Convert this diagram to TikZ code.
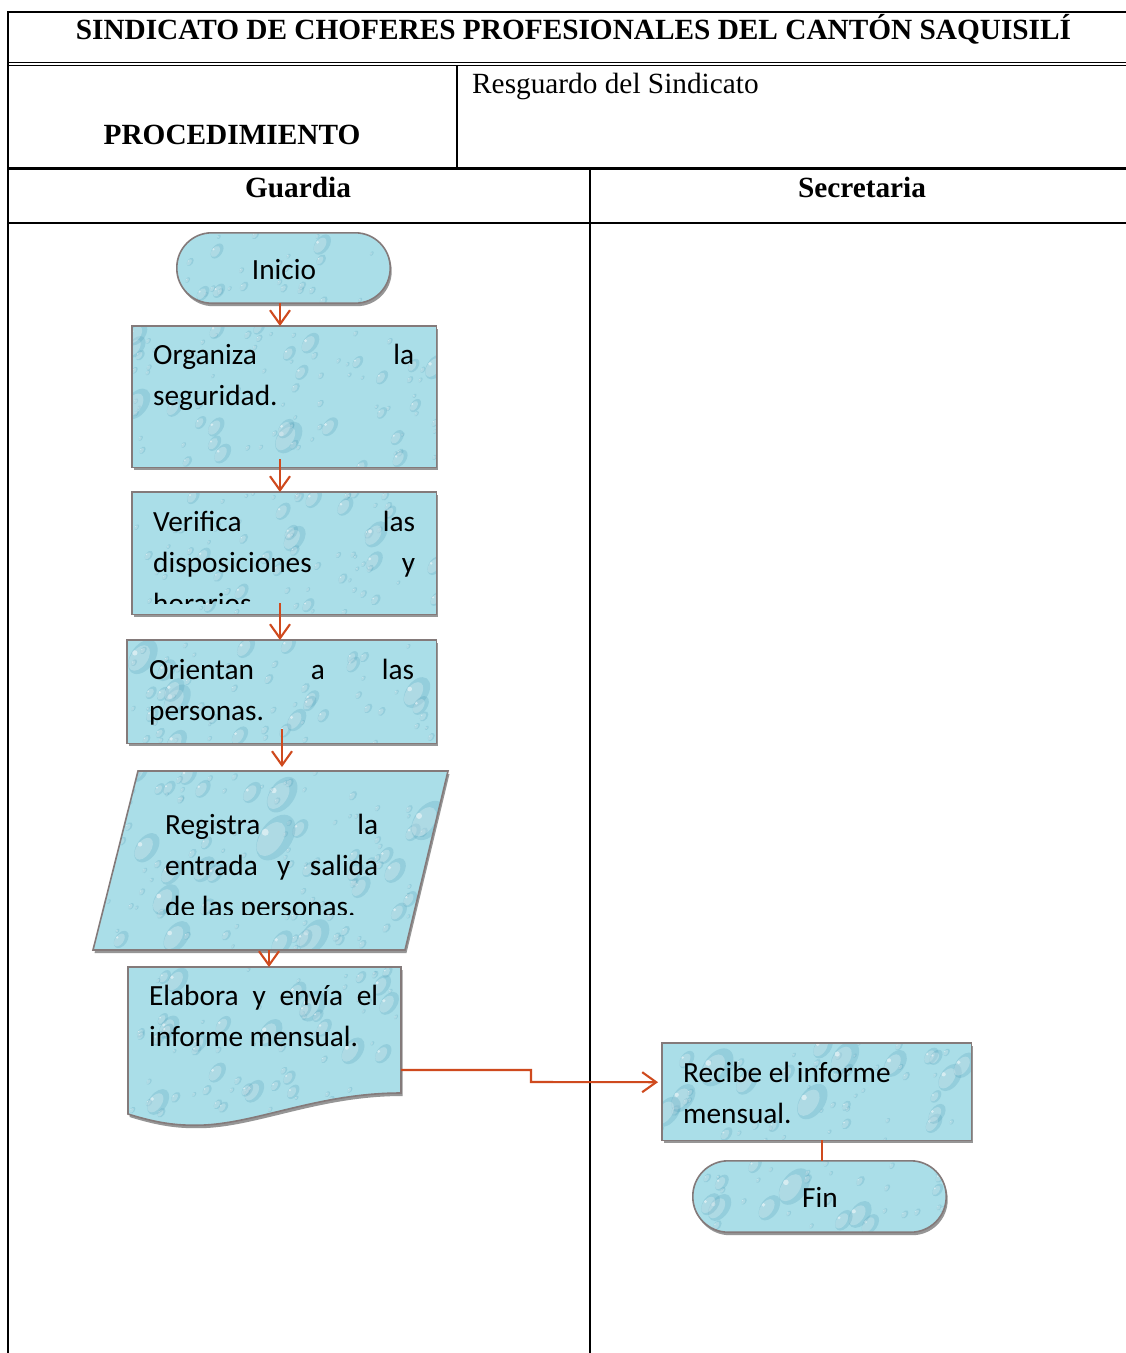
\documentclass[tikz,border=0pt]{standalone}
\usepackage{fontspec}
\setmainfont{Liberation Serif}
\newfontfamily\boxfont{Carlito}
\usetikzlibrary{shadows,arrows.meta,calc}

\definecolor{water}{RGB}{170,222,232}
\definecolor{waterdark}{RGB}{70,150,178}
\definecolor{edgegray}{RGB}{132,122,122}
\definecolor{shadowgray}{RGB}{150,150,150}
\definecolor{flowred}{RGB}{207,74,30}

\tikzset{
  % water-drop texture inside a shape
  drops/.style={
    fill=water,
    path picture={
      \pgfpointdiff{\pgfpointanchor{path picture bounding box}{south west}}%
                   {\pgfpointanchor{path picture bounding box}{north east}}%
      \pgfgetlastxy{\dropw}{\droph}%
      \pgfmathtruncatemacro{\dropcount}{(\dropw/10)*(\droph/10)/5}%
      \pgfmathsetseed{#1}%
      \begin{scope}[shift={(path picture bounding box.south west)}, x=1pt, y=1pt]
        \foreach \k in {1,...,\dropcount}{%
          \pgfmathsetmacro{\dropx}{rnd*\dropw}%
          \pgfmathsetmacro{\dropy}{rnd*\droph}%
          \pgfmathsetmacro{\dropr}{1.5+17*rnd*rnd*rnd}%
          \begin{scope}[shift={(\dropx,\dropy)}, rotate=55]
            \fill[waterdark, opacity=.22] ({.15*\dropr},{-.1*\dropr}) ellipse ({1.6*\dropr} and {\dropr});
            \fill[white, opacity=.25] ({-.1*\dropr},{.1*\dropr}) ellipse ({1.2*\dropr} and {.7*\dropr});
          \end{scope}
          \fill[white, opacity=.5] ({\dropx-.5*\dropr},{\dropy+.4*\dropr}) circle ({.22*\dropr});
        }
      \end{scope}
    }
  },
  shapebox/.style={draw=edgegray, line width=1.6pt, drops=#1,
    drop shadow={shadow xshift=1.5pt, shadow yshift=-3pt, fill=shadowgray, opacity=1}},
  frame/.style={rectangle, inner sep=0pt, draw=none},
  boxtext/.style={font=\boxfont\fontsize{29.3pt}{41pt}\selectfont, inner sep=0pt, anchor=base west},
  termtext/.style={font=\boxfont\fontsize{29.3pt}{35pt}\selectfont, inner sep=0pt, anchor=base},
  headtext/.style={font=\fontsize{29.3pt}{35pt}\selectfont, inner sep=0pt},
  headbold/.style={font=\bfseries\fontsize{29.3pt}{35pt}\selectfont, inner sep=0pt, anchor=base},
  flow/.style={draw=flowred, line width=2.1pt, -{Straight Barb[length=14pt,width=20pt]}},
  link/.style={draw=flowred, line width=2.1pt},
  rule/.style={draw=black, line width=2pt},
  thinrule/.style={draw=black, line width=1.3pt},
}

\begin{document}
\begin{tikzpicture}[x=1pt,y=-1pt]
\useasboundingbox (0,0) rectangle (1126,1353);
\fill[white] (0,0) rectangle (1126,1353);

% ---- form grid ----
\draw[rule] (7,12) -- (1127,12);
\draw[rule] (8,11) -- (8,1354);
\draw[thinrule] (8,62.7) -- (1127,62.7);
\draw[thinrule] (8,65.7) -- (1127,65.7);
\draw[rule, line width=1.7pt] (457,66) -- (457,168);
\draw[rule, line width=2.4pt] (8,168.5) -- (1127,168.5);
\draw[rule] (590,168) -- (590,1354);
\draw[rule] (8,223) -- (1127,223);

\node[headbold] (title) at (573.5,39)
  {SINDICATO DE CHOFERES PROFESIONALES DEL CANTÓN SAQUISILÍ};
\node[headtext, anchor=base west] (resg) at (472,93) {Resguardo del Sindicato};
\node[headbold] (proc) at (232,144) {PROCEDIMIENTO};
\node[headbold] (guard) at (298,197) {Guardia};
\node[headbold] (secr) at (862,197) {Secretaria};

% ---- shape frames (anchors for the connectors) ----
\node[frame, minimum width=213pt, minimum height=70pt] (ini) at (283.5,268) {};
\node[frame, anchor=north west, minimum width=304pt, minimum height=141pt] (org) at (132,326) {};
\node[frame, anchor=north west, minimum width=304pt, minimum height=122pt] (ver) at (132,492) {};
\node[frame, anchor=north west, minimum width=309pt, minimum height=103pt] (ori) at (127,640) {};
\node[frame, anchor=north west, minimum width=309pt, minimum height=97pt] (rec) at (662,1043) {};
\node[frame, minimum width=253pt, minimum height=71pt] (fin) at (819.5,1196.5) {};
\coordinate (reg-n) at (282,771);
\coordinate (reg-s) at (269,950);
\coordinate (ela-n) at (269,967);
\coordinate (ela-e) at (401,1070);

% ---- Guardia lane ----
\path[shapebox=11, rounded corners=34.9pt] (ini.north west) rectangle (ini.south east);
\node[termtext] (ini-t) at (284,279) {Inicio};

\path[shapebox=23] (org.north west) rectangle (org.south east);
\node[boxtext] (org1) at (153,364) {\makebox[261pt][s]{Organiza la}};
\node[boxtext] (org2) at (153,405) {seguridad.};

\path[shapebox=37] (ver.north west) rectangle (ver.south east);
\node[boxtext] (ver1) at (153,531) {\makebox[262pt][s]{Verifica las}};
\node[boxtext] (ver2) at (153,572) {\makebox[262pt][s]{disposiciones y}};
\begin{scope}
  \clip (132,585) rectangle (436,603.5);
  \node[boxtext] (ver3) at (153,613) {horarios.};
\end{scope}

\path[shapebox=41] (ori.north west) rectangle (ori.south east);
\node[boxtext] (ori1) at (149,679) {\makebox[265pt][s]{Orientan a las}};
\node[boxtext] (ori2) at (149,720) {personas.};

% input/output: registro de personas
\path[shapebox=53] (138,771) -- (448,771) -- (405,950) -- (93,950) -- cycle;
\node[boxtext] (reg1) at (165,834) {\makebox[213pt][s]{Registra la}};
\node[boxtext] (reg2) at (165,875) {\makebox[213pt][s]{entrada y salida}};
\begin{scope}
  \clip (93,885) rectangle (448,914.5);
  \node[boxtext] (reg3) at (165,916) {de las personas.};
\end{scope}

% document: informe mensual
\path[shapebox=67] (128,967) -- (401,967) -- (401,1093)
  .. controls (320,1093) and (260,1122) .. (205,1125)
  .. controls (180,1126) and (160,1124) .. (128,1114) -- cycle;
\node[boxtext] (ela1) at (149,1005) {\makebox[229pt][s]{Elabora y envía el}};
\node[boxtext] (ela2) at (149,1046) {informe mensual.};

% ---- Secretaria lane ----
\path[shapebox=79] (rec.north west) rectangle (rec.south east);
\node[boxtext] (rec1) at (683,1082) {Recibe el informe};
\node[boxtext] (rec2) at (683,1123) {mensual.};

\path[shapebox=83, rounded corners=35.4pt] (fin.north west) rectangle (fin.south east);
\node[termtext] (fin-t) at (820,1207) {Fin};

% ---- connectors ----
\coordinate (xa) at (280,0);
\coordinate (xd) at (822,0);
\draw[flow] (ini.south -| xa) -- (org.north -| xa);
\draw[flow] ($(org.south -| xa)+(0,-8)$) -- (ver.north -| xa);
\draw[flow] ($(ver.south -| xa)+(0,-11)$) -- (ori.north -| xa);
\draw[flow] ($(ori.south -| reg-n)+(0,-14)$) -- ($(reg-n)+(0,-4)$);
\draw[flow] (reg-s) -- (ela-n);
\draw[flow] (ela-e) -- (531,1070) -- (531,1082) -- ($(rec.west)+(-4,-9.5)$);
\draw[link] (rec.south -| xd) -- (fin.north -| xd);
\end{tikzpicture}
\end{document}
